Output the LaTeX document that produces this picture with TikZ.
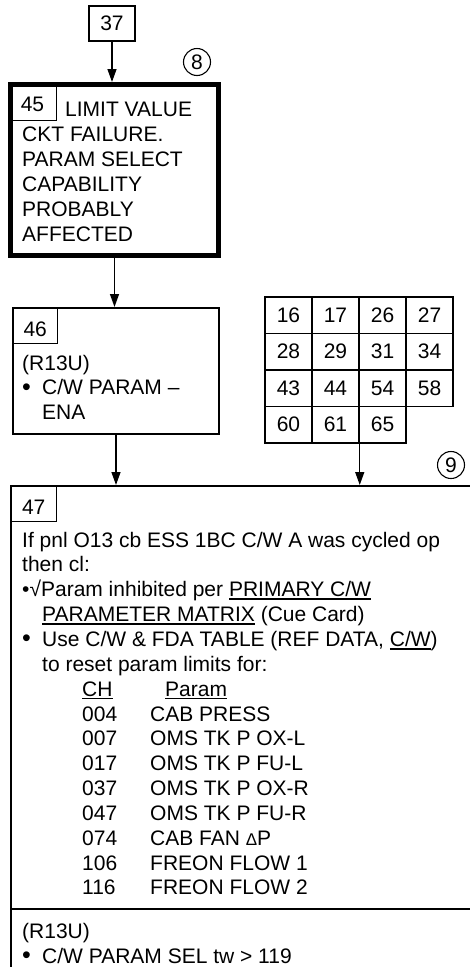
\documentclass[tikz,border=0pt]{standalone}
\usepackage{fontspec}
\setmainfont{Liberation Sans}
\usetikzlibrary{arrows.meta, positioning, calc}
\newcommand{\cwul}[1]{\setbox0=\hbox{#1}\rlap{\rule[-3.2pt]{\wd0}{1.5pt}}\box0\relax}

\begin{document}
\begin{tikzpicture}[x=1pt, y=-1pt, font=\fontsize{21}{25}\selectfont,
    stepbox/.style={draw, line width=1.7pt, inner sep=0pt, anchor=north west},
    tagbox/.style={draw, line width=1.4pt, inner sep=0pt, minimum width=45pt, minimum height=36pt, text height=21pt, anchor=north west},
    cell/.style={draw, line width=1.5pt, minimum width=47pt, minimum height=36.5pt, inner sep=0pt},
    pagemark/.style={draw, circle, line width=1.1pt, minimum size=27pt, inner sep=0pt},
    flow/.style={line width=1.4pt, -{Triangle[length=13pt, width=9pt]}},
    txt/.style={anchor=base west, inner sep=0pt},
    dot/.style={anchor=base west, inner sep=0pt, font=\fontsize{25}{25}\selectfont}]
  \useasboundingbox (0,0) rectangle (470,967);
  \clip (0,0) rectangle (470,967);

  % Entry block
  \node[stepbox, minimum width=46.3pt, minimum height=35.3pt, anchor=center] (b37) at (112,23.5) {37};
  \node[pagemark] (m8) at (197,62) {8};

  % Block 45 (heavy frame)
  \node[stepbox, line width=4.6pt, minimum width=208.4pt, minimum height=171.4pt] (b45) at (8,82) {};
  \node[tagbox, minimum width=47.6pt, minimum height=37.6pt] (t45) at (b45.north west) {45};
  \node[txt] (h45) at (65,116) {LIMIT VALUE};
  \foreach \ln [count=\i from 0] in {CKT FAILURE., PARAM SELECT, CAPABILITY, PROBABLY, AFFECTED}
    \node[txt] (h45-\i) at (22,141+25*\i) {\ln};

  % Block 46
  \node[stepbox, minimum width=206.3pt, minimum height=126.3pt] (b46) at (12,307) {};
  \node[tagbox] (t46) at (b46.north west) {46};
  \node[txt] (h46a) at (22,370) {(R13U)};
  \node[dot] (h46b) at (22,395) {•};
  \node[txt] (h46c) at (42,394.5) {C/W PARAM –};
  \node[txt] (h46d) at (42,419) {ENA};

  % Step grid
  \foreach \row [count=\r] in {{16,17,26,27},{28,29,31,34},{43,44,54,58},{60,61,65}}
    \foreach \num [count=\c] in \row
      \node[cell] (c-\r-\c) at (288.5+47*\c-47,315.25+36.5*\r-36.5) {\num};

  % Block 47 (runs off the page on the right and below)
  \node[stepbox, line width=2.3pt, minimum width=480pt, minimum height=520pt] (b47) at (10,485) {};
  \node[tagbox, minimum width=46pt] (t47) at (b47.north west) {47};
  \node[pagemark] (m9) at (451,465) {9};
  \draw[line width=2.3pt] (b47.west |- 0,909) -- (b47.east |- 0,909);

  \node[txt] (l1) at (22,547) {If pnl O13 cb ESS 1BC C/W A was cycled op};
  \node[txt] (l2) at (22,571.9) {then cl:};
  \node[txt] (l3) at (22,596.7) {•√Param inhibited per \cwul{PRIMARY C/W}};
  \node[txt] (l4) at (42,621.6) {\cwul{PARAMETER MATRIX} (Cue Card)};
  \node[dot] (l5a) at (22,646.9) {•};
  \node[txt] (l5) at (42,646.4) {Use C/W \& FDA TABLE (REF DATA, \cwul{C/W})};
  \node[txt] (l6) at (42,671.3) {to reset param limits for:};
  \node[txt] (ch) at (82,696.1) {\cwul{CH}};
  \node[txt] (pm) at (165,696.1) {\cwul{Param}};
  \foreach \ch/\pname [count=\i from 0] in {004/CAB PRESS, 007/OMS TK P OX-L, 017/OMS TK P FU-L, 037/OMS TK P OX-R, 047/OMS TK P FU-R, 074/CAB FAN {\fontsize{17}{20}\selectfont Δ}P, 106/FREON FLOW 1, 116/FREON FLOW 2} {
    \node[txt] (ch-\i) at (82,721+24.85*\i) {\ch};
    \node[txt] (pm-\i) at (150,721+24.85*\i) {\pname};
  }
  \node[txt] (l7) at (22,938) {(R13U)};
  \node[dot] (l8a) at (22,963.5) {•};
  \node[txt] (l8) at (42,963) {C/W PARAM SEL tw > 119};

  % Flow
  \draw[flow] (b37.south) -- (b37.south |- b45.north);
  \draw[flow] (b45.south) -- (b45.south |- b46.north);
  \draw[flow] (b46.south) -- (b46.south |- b47.north);
  \draw[flow] (c-4-2.south east) -- (c-4-2.south east |- b47.north);
\end{tikzpicture}
\end{document}
